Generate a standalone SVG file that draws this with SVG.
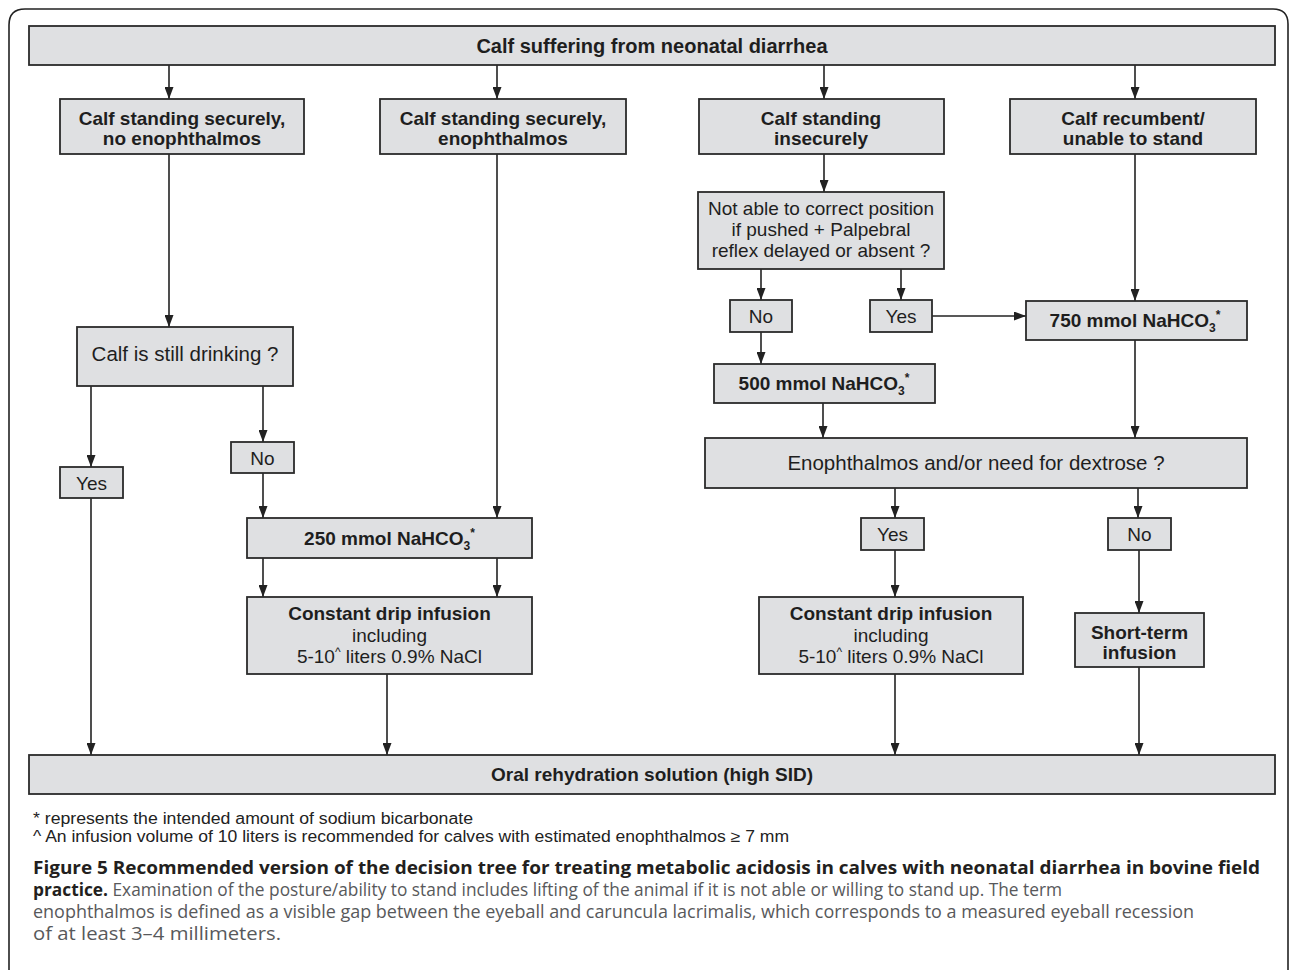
<svg xmlns="http://www.w3.org/2000/svg" width="1290" height="970" viewBox="0 0 1290 970">
<style>
.bx{fill:#dfe0e2;stroke:#2b2b2b;stroke-width:1.8}
.t{font-family:"Liberation Sans",Arial,sans-serif;fill:#1e1e1e;text-anchor:middle}
.b{font-weight:bold;font-size:19px}
.n{font-size:19px}
.c{fill:none;stroke:#222;stroke-width:1.6}
.sub{font-size:12px}
.fn{font-family:"Liberation Sans",Arial,sans-serif;font-size:16px;fill:#222}
.cap{font-family:"Open Sans","Liberation Sans",sans-serif;font-size:18px;fill:#58595b}
.capb{font-weight:bold;fill:#231f20}
</style>
<defs>
<marker id="ah" viewBox="0 0 12 9" refX="12" refY="4.5" markerWidth="12" markerHeight="9" markerUnits="userSpaceOnUse" orient="auto"><path d="M0,0 L12,4.5 L0,9 z" fill="#222"/></marker>
</defs>
<rect width="1290" height="970" fill="#fff"/>
<path d="M9,970 V25 Q9,9 25,9 H1273 Q1288,9 1288,24 V970" fill="none" stroke="#222" stroke-width="1.6"/>

<g id="connectors" class="c" marker-end="url(#ah)">
<line x1="169" y1="65" x2="169" y2="99"/>
<line x1="497" y1="65" x2="497" y2="99"/>
<line x1="824" y1="65" x2="824" y2="99"/>
<line x1="1135" y1="65" x2="1135" y2="99"/>
<line x1="169" y1="154" x2="169" y2="327"/>
<line x1="91" y1="386" x2="91" y2="467"/>
<line x1="263" y1="386" x2="263" y2="442"/>
<line x1="91" y1="498" x2="91" y2="755"/>
<line x1="263" y1="473" x2="263" y2="518"/>
<line x1="497" y1="154" x2="497" y2="518"/>
<line x1="263" y1="558" x2="263" y2="597"/>
<line x1="497" y1="558" x2="497" y2="597"/>
<line x1="387" y1="674" x2="387" y2="755"/>
<line x1="824" y1="154" x2="824" y2="192"/>
<line x1="761" y1="269" x2="761" y2="300"/>
<line x1="901" y1="269" x2="901" y2="300"/>
<line x1="932" y1="316" x2="1026" y2="316"/>
<line x1="1135" y1="154" x2="1135" y2="301"/>
<line x1="761" y1="332" x2="761" y2="364"/>
<line x1="823" y1="403" x2="823" y2="438"/>
<line x1="1135" y1="340" x2="1135" y2="438"/>
<line x1="895" y1="488" x2="895" y2="518"/>
<line x1="1138" y1="488" x2="1138" y2="518"/>
<line x1="895" y1="550" x2="895" y2="597"/>
<line x1="1139" y1="550" x2="1139" y2="613"/>
<line x1="895" y1="674" x2="895" y2="755"/>
<line x1="1139" y1="667" x2="1139" y2="755"/>
</g>

<g id="n_top"><rect class="bx" x="29" y="26" width="1246" height="39"/><text class="t b" x="652" y="53" style="font-size:20px">Calf suffering from neonatal diarrhea</text></g>

<g id="n_a"><rect class="bx" x="60" y="99" width="244" height="55"/><text class="t b" x="182" y="125">Calf standing securely,</text><text class="t b" x="182" y="145">no enophthalmos</text></g>
<g id="n_b"><rect class="bx" x="380" y="99" width="246" height="55"/><text class="t b" x="503" y="125">Calf standing securely,</text><text class="t b" x="503" y="145">enophthalmos</text></g>
<g id="n_c"><rect class="bx" x="699" y="99" width="245" height="55"/><text class="t b" x="821" y="125">Calf standing</text><text class="t b" x="821" y="145">insecurely</text></g>
<g id="n_d"><rect class="bx" x="1010" y="99" width="246" height="55"/><text class="t b" x="1133" y="125">Calf recumbent/</text><text class="t b" x="1133" y="145">unable to stand</text></g>

<g id="n_drink"><rect class="bx" x="77" y="327" width="216" height="59"/><text class="t n" x="185" y="361" style="font-size:20.5px">Calf is still drinking ?</text></g>
<g id="n_yes1"><rect class="bx" x="60" y="467" width="63" height="31"/><text class="t n" x="91.5" y="490">Yes</text></g>
<g id="n_no1"><rect class="bx" x="231" y="442" width="63" height="31"/><text class="t n" x="262.5" y="465">No</text></g>
<g id="n_250"><rect class="bx" x="247" y="518" width="285" height="40"/><text class="t b" x="389.5" y="545">250 mmol NaHCO<tspan class="sub" dy="5">3</tspan><tspan class="sub" dy="-13">*</tspan></text></g>
<g id="n_cdL"><rect class="bx" x="247" y="597" width="285" height="77"/><text class="t b" x="389.5" y="620">Constant drip infusion</text><text class="t n" x="389.5" y="642">including</text><text class="t n" x="389.5" y="663">5-10<tspan class="sub" dy="-7">^</tspan><tspan dy="7"> liters 0.9% NaCl</tspan></text></g>

<g id="n_dec"><rect class="bx" x="698" y="192" width="246" height="77"/><text class="t n" x="821" y="215">Not able to correct position</text><text class="t n" x="821" y="236">if pushed + Palpebral</text><text class="t n" x="821" y="257">reflex delayed or absent ?</text></g>
<g id="n_no2"><rect class="bx" x="730" y="300" width="62" height="32"/><text class="t n" x="761" y="323">No</text></g>
<g id="n_yes2"><rect class="bx" x="870" y="300" width="62" height="32"/><text class="t n" x="901" y="323">Yes</text></g>
<g id="n_750"><rect class="bx" x="1026" y="301" width="221" height="39"/><text class="t b" x="1135" y="327">750 mmol NaHCO<tspan class="sub" dy="5">3</tspan><tspan class="sub" dy="-13">*</tspan></text></g>
<g id="n_500"><rect class="bx" x="714" y="364" width="221" height="39"/><text class="t b" x="824" y="390">500 mmol NaHCO<tspan class="sub" dy="5">3</tspan><tspan class="sub" dy="-13">*</tspan></text></g>
<g id="n_enoph"><rect class="bx" x="705" y="438" width="542" height="50"/><text class="t n" x="976" y="470" style="font-size:20.5px">Enophthalmos and/or need for dextrose ?</text></g>
<g id="n_yes3"><rect class="bx" x="861" y="518" width="63" height="32"/><text class="t n" x="892.5" y="541">Yes</text></g>
<g id="n_no3"><rect class="bx" x="1108" y="518" width="63" height="32"/><text class="t n" x="1139.5" y="541">No</text></g>
<g id="n_cdR"><rect class="bx" x="759" y="597" width="264" height="77"/><text class="t b" x="891" y="620">Constant drip infusion</text><text class="t n" x="891" y="642">including</text><text class="t n" x="891" y="663">5-10<tspan class="sub" dy="-7">^</tspan><tspan dy="7"> liters 0.9% NaCl</tspan></text></g>
<g id="n_short"><rect class="bx" x="1075" y="613" width="129" height="54"/><text class="t b" x="1139.5" y="639">Short-term</text><text class="t b" x="1139.5" y="659">infusion</text></g>

<g id="n_ors"><rect class="bx" x="29" y="755" width="1246" height="39"/><text class="t b" x="652" y="781">Oral rehydration solution (high SID)</text></g>

<g id="footnotes">
<text class="fn" x="33" y="824" textLength="440" lengthAdjust="spacingAndGlyphs">* represents the intended amount of sodium bicarbonate</text>
<text class="fn" x="33" y="842" textLength="756" lengthAdjust="spacingAndGlyphs">^ An infusion volume of 10 liters is recommended for calves with estimated enophthalmos ≥ 7 mm</text>
</g>
<g id="caption">
<text class="cap capb" x="33" y="874" textLength="1227" lengthAdjust="spacingAndGlyphs">Figure 5 Recommended version of the decision tree for treating metabolic acidosis in calves with neonatal diarrhea in bovine field</text>
<text class="cap" x="33" y="896" textLength="1029" lengthAdjust="spacingAndGlyphs"><tspan class="capb">practice.</tspan> Examination of the posture/ability to stand includes lifting of the animal if it is not able or willing to stand up. The term</text>
<text class="cap" x="33" y="918" textLength="1161" lengthAdjust="spacingAndGlyphs">enophthalmos is defined as a visible gap between the eyeball and caruncula lacrimalis, which corresponds to a measured eyeball recession</text>
<text class="cap" x="33" y="940" textLength="248" lengthAdjust="spacingAndGlyphs">of at least 3–4 millimeters.</text>
</g>
</svg>
